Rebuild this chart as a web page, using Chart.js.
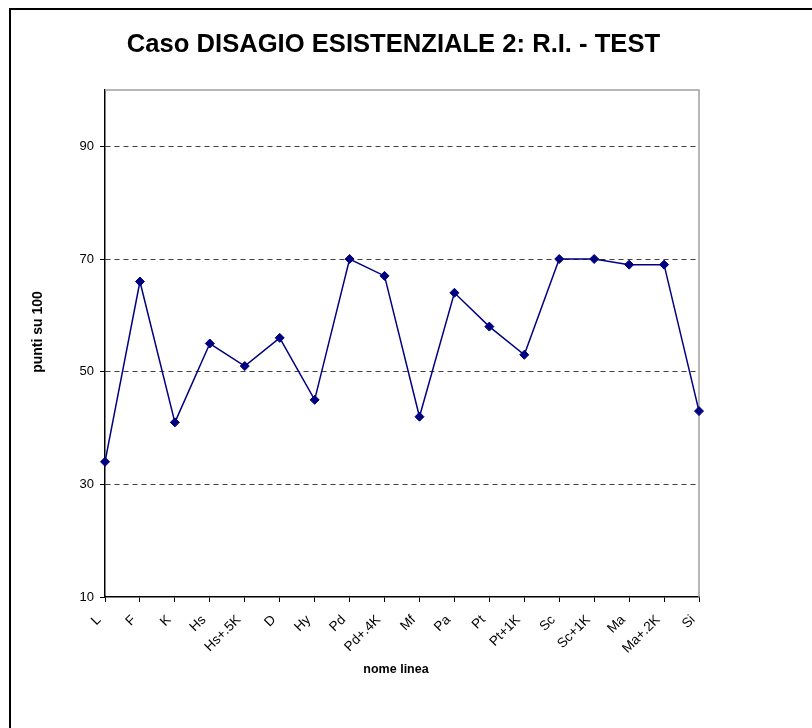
<!DOCTYPE html>
<html>
<head>
<meta charset="utf-8">
<style>
  html, body { margin: 0; padding: 0; background: #fff; }
  canvas { display: block; }
</style>
<script src="https://cdn.jsdelivr.net/npm/chart.js@4/dist/chart.umd.min.js"></script>
</head>
<body>
<canvas id="c" width="812" height="728"></canvas>
<script>
const chartTitle = 'Caso DISAGIO ESISTENZIALE 2: R.I. - TEST';
const xTitle = 'nome linea';
const yTitle = 'punti su 100';
const categories = ['L', 'F', 'K', 'Hs', 'Hs+.5K', 'D', 'Hy', 'Pd', 'Pd+.4K', 'Mf', 'Pa', 'Pt', 'Pt+1K', 'Sc', 'Sc+1K', 'Ma', 'Ma+.2K', 'Si'];
const values = [34, 66, 41, 55, 51, 56, 45, 70, 67, 42, 64, 58, 53, 70, 70, 69, 69, 43];
const yTicks = [10, 30, 50, 70, 90];
const yMin = 10;
const yMax = 100;

const FONT = "'Liberation Sans', Arial, sans-serif";

const decor = {
  id: 'decor',
  beforeDraw(chart) {
    const ctx = chart.ctx;
    ctx.save();
    ctx.fillStyle = '#fff';
    ctx.fillRect(0, 0, chart.width, chart.height);
    ctx.restore();
  },
  beforeDatasetsDraw(chart) {
    const ctx = chart.ctx;
    const a = chart.chartArea;
    ctx.save();
    ctx.strokeStyle = '#a0a0a0';
    ctx.lineWidth = 1.5;
    ctx.beginPath();
    ctx.moveTo(a.left, a.top);
    ctx.lineTo(a.right, a.top);
    ctx.lineTo(a.right, a.bottom);
    ctx.stroke();
    ctx.restore();
  },
  afterDraw(chart) {
    const ctx = chart.ctx;
    ctx.save();
    // outer frame (top and left edges)
    ctx.strokeStyle = '#000';
    ctx.lineWidth = 2;
    ctx.beginPath();
    ctx.moveTo(10, chart.height);
    ctx.lineTo(10, 9);
    ctx.lineTo(chart.width, 9);
    ctx.stroke();
    // main title
    ctx.fillStyle = '#000';
    ctx.textAlign = 'center';
    ctx.textBaseline = 'middle';
    ctx.font = 'bold 25.6px ' + FONT;
    ctx.fillText(chartTitle, 393.5, 45);
    // axis titles
    ctx.font = 'bold 12.5px ' + FONT;
    ctx.fillText(xTitle, 396, 670);
    ctx.font = 'bold 14px ' + FONT;
    ctx.translate(38, 332);
    ctx.rotate(-Math.PI / 2);
    ctx.fillText(yTitle, 0, 0);
    ctx.restore();
  }
};

new Chart(document.getElementById('c'), {
  type: 'line',
  plugins: [decor],
  data: {
    labels: categories,
    datasets: [{
      data: values,
      borderColor: '#000080',
      backgroundColor: '#000080',
      borderWidth: 1.5,
      pointStyle: 'rectRot',
      pointRadius: 4.5,
      pointHoverRadius: 4.5,
      pointBackgroundColor: '#000080',
      pointBorderColor: '#000080',
      pointBorderWidth: 1,
      tension: 0,
      fill: false,
      clip: false
    }]
  },
  options: {
    responsive: false,
    animation: false,
    devicePixelRatio: 1,
    layout: { padding: { top: 90, left: 0, right: 113, bottom: 0 } },
    plugins: {
      legend: { display: false },
      title: { display: false },
      tooltip: { enabled: false }
    },
    scales: {
      x: {
        type: 'category',
        offset: false,
        grid: {
          drawOnChartArea: false,
          drawTicks: true,
          tickLength: 5,
          tickColor: '#000',
          color: '#000'
        },
        border: { color: '#000', width: 1.5 },
        ticks: {
          autoSkip: false,
          minRotation: 45,
          maxRotation: 45,
          padding: 10,
          labelOffset: -6,
          color: '#000',
          font: { family: FONT, size: 13.5 }
        },
        afterFit(scale) {
          scale.height = 131;
          scale.paddingLeft = 0;
          scale.paddingRight = 0;
        }
      },
      y: {
        min: yMin,
        max: yMax,
        afterBuildTicks(scale) {
          scale.ticks = yTicks.map(v => ({ value: v }));
        },
        grid: {
          drawTicks: true,
          tickLength: 5,
          tickColor: '#000',
          tickBorderDash: [1, 0],
          color: ctx => (ctx.tick && (ctx.tick.value === yMin || ctx.tick.value === yMax)) ? 'rgba(0,0,0,0)' : '#404040',
          lineWidth: 1
        },
        border: { color: '#000', width: 1.5, dash: [5, 4] },
        ticks: {
          padding: 6,
          color: '#000',
          font: { family: FONT, size: 13 }
        },
        afterFit(scale) {
          scale.width = 105;
          scale.paddingTop = 0;
          scale.paddingBottom = 0;
        }
      }
    }
  }
});
</script>
</body>
</html>
